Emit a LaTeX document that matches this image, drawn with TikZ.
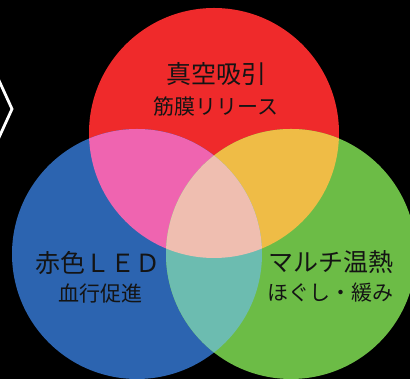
\documentclass[tikz,border=0pt]{standalone}
\usepackage{fontspec}
\newfontfamily\jp{Noto Sans CJK JP}
\definecolor{cRed}{RGB}{239,42,43}
\definecolor{cBlue}{RGB}{44,100,176}
\definecolor{cGreen}{RGB}{108,188,70}
\definecolor{cPink}{RGB}{239,100,176}
\definecolor{cYellow}{RGB}{239,188,70}
\definecolor{cTeal}{RGB}{108,188,176}
\definecolor{cMid}{RGB}{239,190,176}
\definecolor{cText}{RGB}{20,20,20}
\begin{document}
\begin{tikzpicture}[x=1pt,y=1pt,
  title/.style={font=\jp\fontsize{25}{25}\selectfont, text=cText, inner sep=0pt},
  sub/.style={font=\jp\fontsize{21}{21}\selectfont, text=cText, inner sep=0pt}]
\fill[black] (0,0) rectangle (410,379);
\useasboundingbox (0,0) rectangle (410,379);
\clip (0,0) rectangle (410,379);
\def\cirR{(214,246) circle (125)}
\def\cirB{(137,125) circle (125)}
\def\cirG{(291,125) circle (125)}
% chevron
\draw[white, line width=2.8pt, line join=miter] (-4,305) -- (12,270) -- (-4,235);
% circles
\fill[cRed] \cirR;
\fill[cBlue] \cirB;
\fill[cGreen] \cirG;
\begin{scope}\clip \cirR; \fill[cPink] \cirB; \end{scope}
\begin{scope}\clip \cirR; \fill[cYellow] \cirG; \end{scope}
\begin{scope}\clip \cirB; \fill[cTeal] \cirG; \end{scope}
\begin{scope}\clip \cirR; \clip \cirB; \fill[cMid] \cirG; \end{scope}
% texts
\node[title] (t1) at (216,305) {真空吸引};
\node[sub] (s1) at (216,272) {筋膜リリース};
\node[title] (t2) at (98,116) {赤色ＬＥＤ};
\node[sub] (s2) at (100,85) {血行促進};
\node[title] (t3) at (331,117) {マルチ温熱};
\node[sub] (s3) at (330,86) {ほぐし・緩み};
\end{tikzpicture}
\end{document}
